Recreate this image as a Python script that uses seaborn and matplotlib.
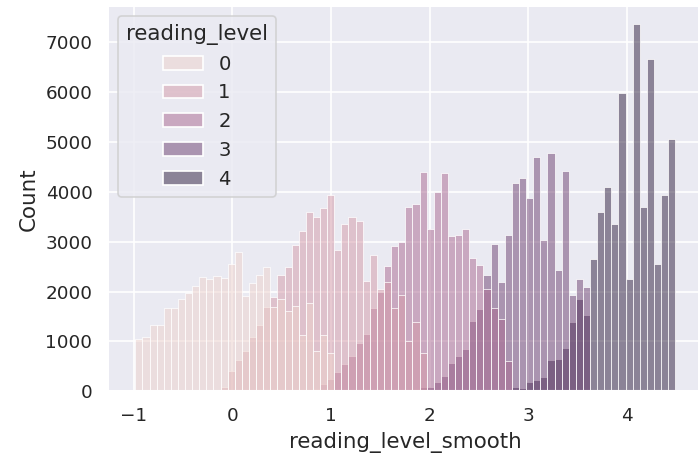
import numpy as np
import pandas as pd
import matplotlib
matplotlib.use("Agg")
import matplotlib.pyplot as plt
import seaborn as sns

# Histogram definition (shared bins)
BIN_LO = -0.984
BIN_HI = 4.493
N_BINS = 76

# Counts per reading_level, each starting at the given bin index
levels = [0, 1, 2, 3, 4]
start_bin = [0, 12, 25, 39, 53]
counts_0 = [1057, 1097, 1337, 1337, 1663, 1677, 1857, 1977, 2117, 2297, 2250, 2303,
            2277, 2553, 2795, 1910, 2180, 2340, 2497, 1697, 1843, 1610, 1710, 1123,
            1763, 817, 1137, 763]
counts_1 = [97, 413, 630, 810, 1097, 1330, 1697, 1897, 2330, 2483, 2930, 3217, 3590,
            3483, 3680, 3925, 2840, 3357, 3497, 3410, 2213, 2723, 2043, 2197, 1677,
            1930, 1017, 1397, 763]
counts_2 = [40, 150, 245, 397, 550, 710, 963, 1157, 1663, 1990, 2510, 2910, 2997,
            3683, 3750, 4383, 3243, 3983, 4363, 3110, 3130, 3243, 2663, 2530, 2043,
            1663, 1450, 610]
counts_3 = [50, 80, 90, 183, 310, 577, 710, 850, 1417, 1657, 2330, 2950, 2197, 3130,
            4177, 4263, 3863, 4683, 3030, 4777, 2430, 4417, 1930, 2260, 2097]
counts_4 = [97, 63, 190, 230, 295, 630, 645, 863, 1400, 1843, 1530, 2643, 3583, 4097,
            3343, 5977, 2250, 7343, 3697, 6643, 2550, 3930, 5050]
all_counts = [counts_0, counts_1, counts_2, counts_3, counts_4]

edges = np.linspace(BIN_LO, BIN_HI, N_BINS + 1)
centers = (edges[:-1] + edges[1:]) / 2

rows = []
for lvl, s, cnts in zip(levels, start_bin, all_counts):
    for k, c in enumerate(cnts):
        rows.append((centers[s + k], lvl, c))
df = pd.DataFrame(rows, columns=["reading_level_smooth", "reading_level", "w"])

sns.set_theme()
plt.rcParams["axes.labelsize"] = 12.8
plt.rcParams["legend.fontsize"] = 11.8
plt.rcParams["legend.title_fontsize"] = 12.8

fig = plt.figure(figsize=(698 / 120, 458 / 120), dpi=120)
ax = fig.add_axes([0.1552, 0.1452, 0.851, 0.8417])
sns.histplot(data=df, x="reading_level_smooth", hue="reading_level", weights="w",
             bins=N_BINS, binrange=(BIN_LO, BIN_HI), ax=ax)
ax.set_ylabel("Count")
fig.savefig("out.png", dpi=120)
